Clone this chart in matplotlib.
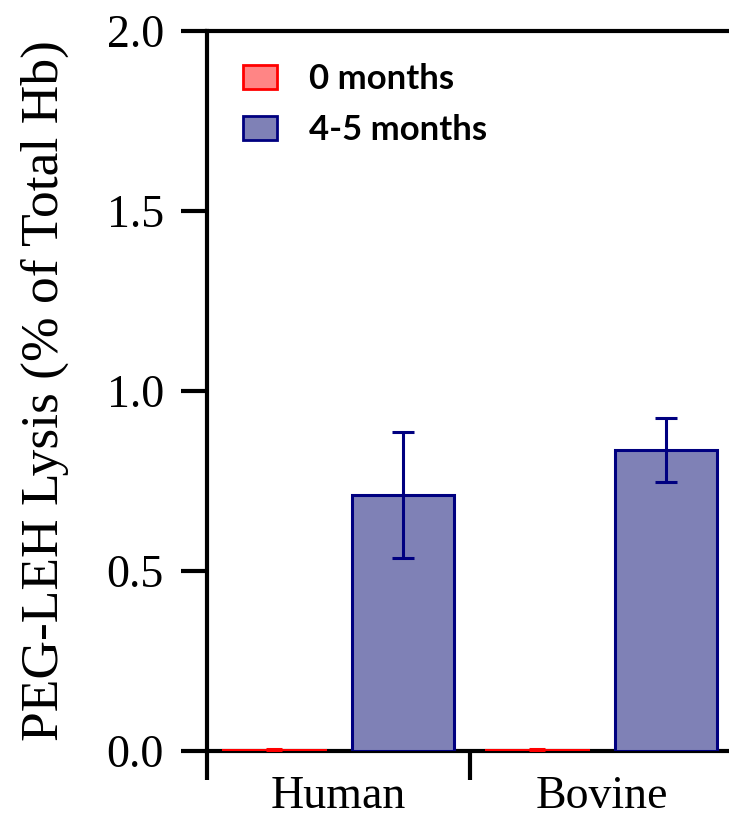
import numpy as np
import matplotlib.pyplot as plt
from matplotlib.patches import Patch

# data
categories = ["Human", "Bovine"]
series_names = ["0 months", "4-5 months"]
vals_0 = [0.003, 0.003]
err_0 = [0.003, 0.003]
vals_45 = [0.711, 0.836]
err_45 = [0.175, 0.09]
y_ticks = [0.0, 0.5, 1.0, 1.5, 2.0]

plt.rcParams["font.family"] = ["Liberation Serif", "DejaVu Serif"]

fig = plt.figure(figsize=(7.29, 8.19), dpi=100)
ax = fig.add_axes([207 / 729, 1 - 751 / 819, 526 / 729, 720 / 819])

x = np.arange(len(categories))
width = 0.39
off = 0.246

ax.bar(x - off, vals_0, width=width, color="#ff8585", edgecolor="#ff0000",
       linewidth=2.2, yerr=err_0, ecolor="#ff0000",
       error_kw=dict(elinewidth=2.2, capsize=6, capthick=2.2), zorder=3)
ax.bar(x + off, vals_45, width=width, color="#7f81b6", edgecolor="#000080",
       linewidth=2.2, yerr=err_45, ecolor="#000080",
       error_kw=dict(elinewidth=2.2, capsize=8, capthick=2.2), zorder=3)

ax.set_xlim(-0.5, 1.5)
ax.set_ylim(0, 2.0)
ax.set_yticks(y_ticks)
ax.set_yticklabels([f"{v:.1f}" for v in y_ticks], fontsize=33)

# category boundary ticks (major) and centred labels (minor)
ax.set_xticks([-0.5, 0.5, 1.5])
ax.set_xticklabels([])
ax.set_xticks(x, minor=True)
ax.set_xticklabels(categories, minor=True, fontsize=33)
ax.tick_params(axis="x", which="major", direction="out", length=21, width=3)
ax.tick_params(axis="x", which="minor", length=0, pad=18)
ax.tick_params(axis="y", direction="out", length=19, width=3, pad=12)

for side in ["left", "bottom", "top"]:
    ax.spines[side].set_linewidth(3)
ax.spines["right"].set_visible(False)

ax.set_ylabel("PEG-LEH Lysis (% of Total Hb)", fontsize=38.5)
ax.yaxis.set_label_coords(-0.262, 0.5)

handles = [
    Patch(facecolor="#ff8585", edgecolor="#ff0000", linewidth=2, label=series_names[0]),
    Patch(facecolor="#7f81b6", edgecolor="#000080", linewidth=2, label=series_names[1]),
]
ax.legend(handles=handles, loc="upper left", bbox_to_anchor=(0.068, 0.955),
          frameon=False, borderpad=0, borderaxespad=0,
          prop={"family": ["Lato", "DejaVu Sans"], "weight": "bold", "size": 25},
          handlelength=1.0, handleheight=0.7, handletextpad=0.9, labelspacing=0.55)

fig.savefig("out.png", dpi=100)
